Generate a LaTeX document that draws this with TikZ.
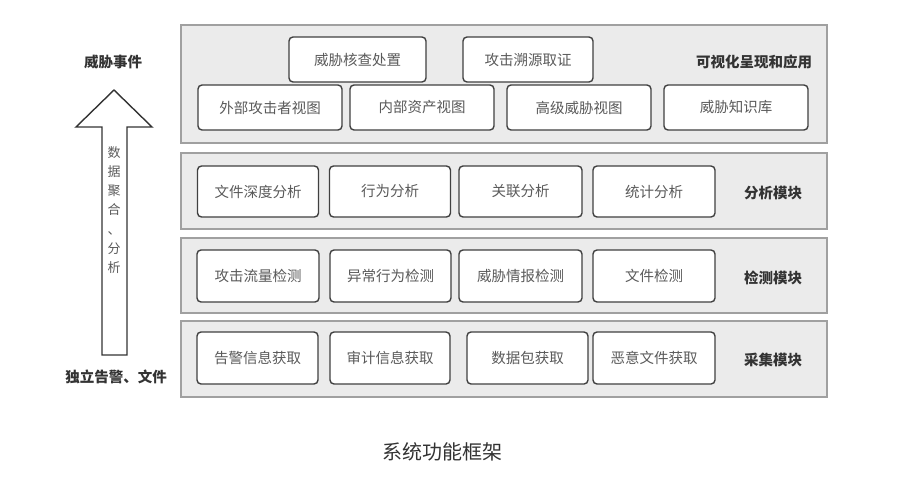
\documentclass[tikz,border=0pt]{standalone}
\usepackage{fontspec}
\setmainfont{Noto Sans CJK SC}
\definecolor{panelfill}{HTML}{EBEBEB}
\definecolor{paneldraw}{HTML}{A0A0A0}
\definecolor{boxdraw}{HTML}{404040}
\definecolor{boxtext}{HTML}{5A5A5A}
\definecolor{labeltext}{HTML}{333333}
\begin{document}
\begin{tikzpicture}[x=1pt,y=-1pt,
  panel/.style={draw=paneldraw,fill=panelfill,line width=1.3pt,inner sep=0pt},
  itembox/.style={draw=boxdraw,fill=white,rounded corners=4pt,line width=1.4pt,
    text=boxtext,font=\fontsize{14.5}{16}\selectfont,inner sep=0pt},
  modlabel/.style={text=labeltext,font=\fontsize{14.5}{16}\selectfont\bfseries,inner sep=0pt},
  sidelabel/.style={text=labeltext,font=\fontsize{14.5}{16}\selectfont\bfseries,inner sep=0pt}]
\useasboundingbox (0,0) rectangle (900,477);
% panels
\node[panel,minimum width=646pt,minimum height=118pt] (p1) at (504,84) {};
\node[panel,minimum width=646pt,minimum height=76pt] (p2) at (504,191) {};
\node[panel,minimum width=646pt,minimum height=75pt] (p3) at (504,275.5) {};
\node[panel,minimum width=646pt,minimum height=76pt] (p4) at (504,359) {};
% top panel
\node[itembox,minimum width=137pt,minimum height=45pt] (a1) at (357.5,59.5) {威胁核查处置};
\node[itembox,minimum width=130pt,minimum height=45pt] (a2) at (528,59.5) {攻击溯源取证};
\node[itembox,minimum width=144pt,minimum height=45pt] (b1) at (270,107.5) {外部攻击者视图};
\node[itembox,minimum width=144pt,minimum height=45pt] (b2) at (422,107.5) {内部资产视图};
\node[itembox,minimum width=144pt,minimum height=45pt] (b3) at (579,107.5) {高级威胁视图};
\node[itembox,minimum width=144pt,minimum height=45pt] (b4) at (736,107.5) {威胁知识库};
\node[modlabel] (l1) at (754,62) {可视化呈现和应用};
% analysis
\node[itembox,minimum width=121pt,minimum height=51pt] (c1) at (258,191.5) {文件深度分析};
\node[itembox,minimum width=121pt,minimum height=51pt] (c2) at (390,191.5) {行为分析};
\node[itembox,minimum width=123pt,minimum height=51pt] (c3) at (520.5,191.5) {关联分析};
\node[itembox,minimum width=122pt,minimum height=51pt] (c4) at (654,191.5) {统计分析};
\node[modlabel] (l2) at (773,193) {分析模块};
% detection
\node[itembox,minimum width=122pt,minimum height=52pt] (d1) at (258,276) {攻击流量检测};
\node[itembox,minimum width=121pt,minimum height=52pt] (d2) at (390.5,276) {异常行为检测};
\node[itembox,minimum width=123pt,minimum height=52pt] (d3) at (520.5,276) {威胁情报检测};
\node[itembox,minimum width=122pt,minimum height=52pt] (d4) at (654,276) {文件检测};
\node[modlabel] (l3) at (773,278) {检测模块};
% collection
\node[itembox,minimum width=121pt,minimum height=52pt] (e1) at (257.5,358) {告警信息获取};
\node[itembox,minimum width=120pt,minimum height=52pt] (e2) at (390,358) {审计信息获取};
\node[itembox,minimum width=121pt,minimum height=52pt] (e3) at (527.5,358) {数据包获取};
\node[itembox,minimum width=122pt,minimum height=52pt] (e4) at (654,358) {恶意文件获取};
\node[modlabel] (l4) at (773,360) {采集模块};
% left arrow
\draw[draw=labeltext,fill=white,line width=1.4pt,line join=miter]
  (102,355) -- (102,127) -- (76,127) -- (114,90) -- (152,127) -- (127,127) -- (127,355) -- cycle;
\node[text=boxtext,font=\fontsize{13}{19.3}\selectfont,align=center,inner sep=0pt] (vt) at (114,210)
  {数\\据\\聚\\合\\、\\分\\析};
\node[sidelabel] (top) at (113,62) {威胁事件};
\node[sidelabel] (bot) at (116,377) {独立告警、文件};
% caption
\node[text=labeltext,font=\fontsize{20}{22}\selectfont,inner sep=0pt] (cap) at (442,452) {系统功能框架};
\end{tikzpicture}
\end{document}
